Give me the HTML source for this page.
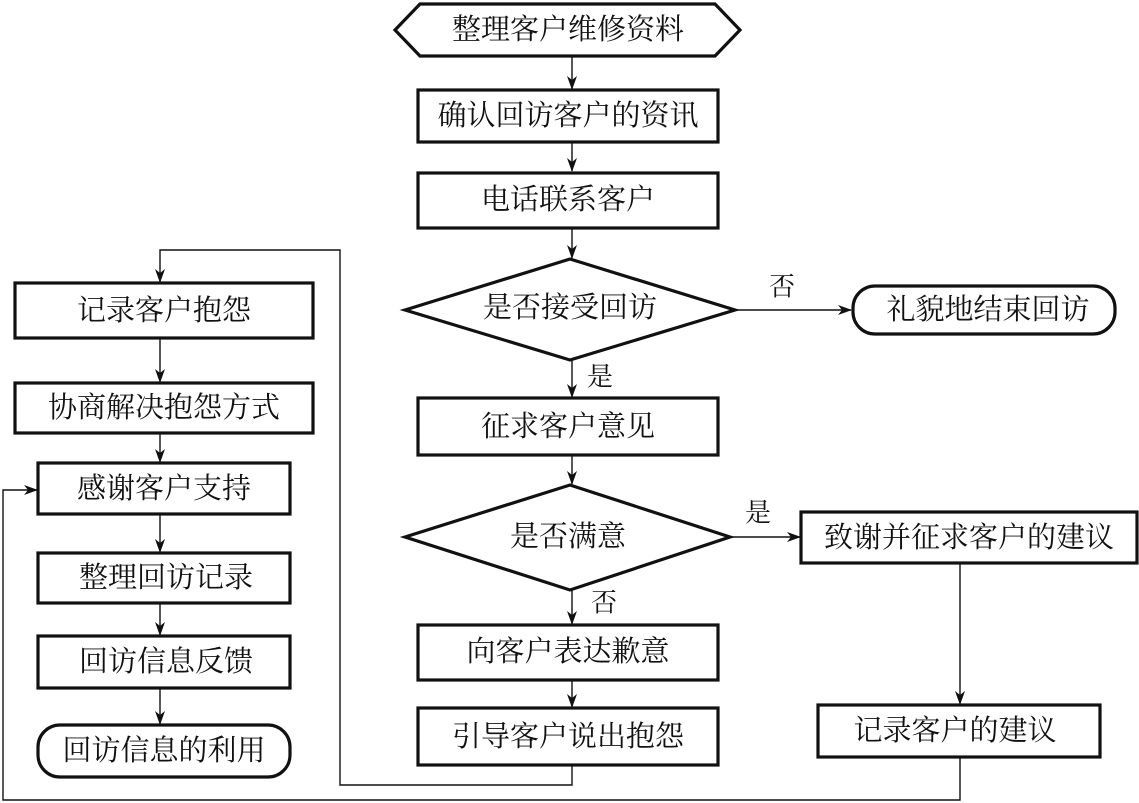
<!DOCTYPE html>
<html><head><meta charset="utf-8"><style>
html,body{margin:0;padding:0;background:#fff;}
svg{display:block;}
text{font-family:"Liberation Serif","Noto Serif CJK SC",serif;font-size:29px;fill:#111;text-anchor:middle;dominant-baseline:central;}
.b{fill:#fff;stroke:#111;stroke-width:3.2;}
.l{fill:none;stroke:#111;stroke-width:1.4;}
.lab{font-size:26px;}
</style></head><body>
<svg width="1139" height="803" viewBox="0 0 1139 803">
<defs>
<marker id="a" markerWidth="14" markerHeight="10" refX="13" refY="5" orient="auto" markerUnits="userSpaceOnUse">
<path d="M0,0 L14,5 L0,10 L4,5 Z" fill="#111"/>
</marker>
</defs>
<!-- connectors main column -->
<line class="l" x1="572" y1="57" x2="572" y2="89" marker-end="url(#a)"/>
<line class="l" x1="572" y1="142" x2="572" y2="171" marker-end="url(#a)"/>
<line class="l" x1="572" y1="228" x2="572" y2="258" marker-end="url(#a)"/>
<line class="l" x1="572" y1="360" x2="572" y2="397" marker-end="url(#a)"/>
<line class="l" x1="572" y1="455" x2="572" y2="484" marker-end="url(#a)"/>
<line class="l" x1="572" y1="590" x2="572" y2="624" marker-end="url(#a)"/>
<line class="l" x1="572" y1="680" x2="572" y2="707" marker-end="url(#a)"/>
<line class="l" x1="735" y1="310" x2="851" y2="310" marker-end="url(#a)"/>
<line class="l" x1="730" y1="537" x2="800" y2="537" marker-end="url(#a)"/>
<line class="l" x1="960" y1="563" x2="960" y2="704" marker-end="url(#a)"/>
<!-- loop from 引导 -->
<polyline class="l" points="572,765 572,785 340,785 340,250 160,250 160,282" marker-end="url(#a)"/>
<!-- loop from 记录客户的建议 -->
<polyline class="l" points="960,757 960,800 3,800 3,490 37,490" marker-end="url(#a)"/>
<!-- left column connectors -->
<line class="l" x1="160" y1="338" x2="160" y2="382" marker-end="url(#a)"/>
<line class="l" x1="160" y1="433" x2="160" y2="462" marker-end="url(#a)"/>
<line class="l" x1="160" y1="514" x2="160" y2="552" marker-end="url(#a)"/>
<line class="l" x1="160" y1="603" x2="160" y2="635" marker-end="url(#a)"/>
<line class="l" x1="160" y1="688" x2="160" y2="724" marker-end="url(#a)"/>

<!-- main nodes -->
<polygon class="b" points="395,30 420,4 715,4 740,30 715,56 420,56"/>
<text x="568" y="30">整理客户维修资料</text>
<rect class="b" x="418" y="90" width="300" height="52"/>
<text x="568" y="116">确认回访客户的资讯</text>
<rect class="b" x="418" y="173" width="300" height="55"/>
<text x="568" y="200">电话联系客户</text>
<polygon class="b" points="405,310 570,259 735,310 570,360"/>
<text x="570" y="308">是否接受回访</text>
<text class="lab" x="782" y="287">否</text>
<rect class="b" x="853" y="286" width="262" height="48" rx="22"/>
<text x="988" y="310">礼貌地结束回访</text>
<text class="lab" x="600" y="377">是</text>
<rect class="b" x="418" y="398" width="300" height="57"/>
<text x="568" y="427">征求客户意见</text>
<polygon class="b" points="405,537 570,485 730,537 570,590"/>
<text x="568" y="537">是否满意</text>
<text class="lab" x="758" y="513">是</text>
<rect class="b" x="801" y="512" width="336" height="51"/>
<text x="969" y="538">致谢并征求客户的建议</text>
<rect class="b" x="818" y="705" width="282" height="52"/>
<text x="955" y="731">记录客户的建议</text>
<text class="lab" x="604" y="603">否</text>
<rect class="b" x="418" y="625" width="300" height="55"/>
<text x="568" y="652">向客户表达歉意</text>
<rect class="b" x="418" y="708" width="300" height="57"/>
<text x="568" y="737">引导客户说出抱怨</text>

<!-- left nodes -->
<rect class="b" x="15" y="283" width="298" height="55"/>
<text x="164" y="311">记录客户抱怨</text>
<rect class="b" x="15" y="383" width="298" height="50"/>
<text x="164" y="408">协商解决抱怨方式</text>
<rect class="b" x="38" y="463" width="252" height="51"/>
<text x="164" y="489">感谢客户支持</text>
<rect class="b" x="38" y="553" width="252" height="50"/>
<text x="166" y="578">整理回访记录</text>
<rect class="b" x="38" y="636" width="252" height="52"/>
<text x="166" y="662">回访信息反馈</text>
<rect class="b" x="38" y="725" width="252" height="52" rx="22"/>
<text x="164" y="751">回访信息的利用</text>
</svg>
</body></html>
